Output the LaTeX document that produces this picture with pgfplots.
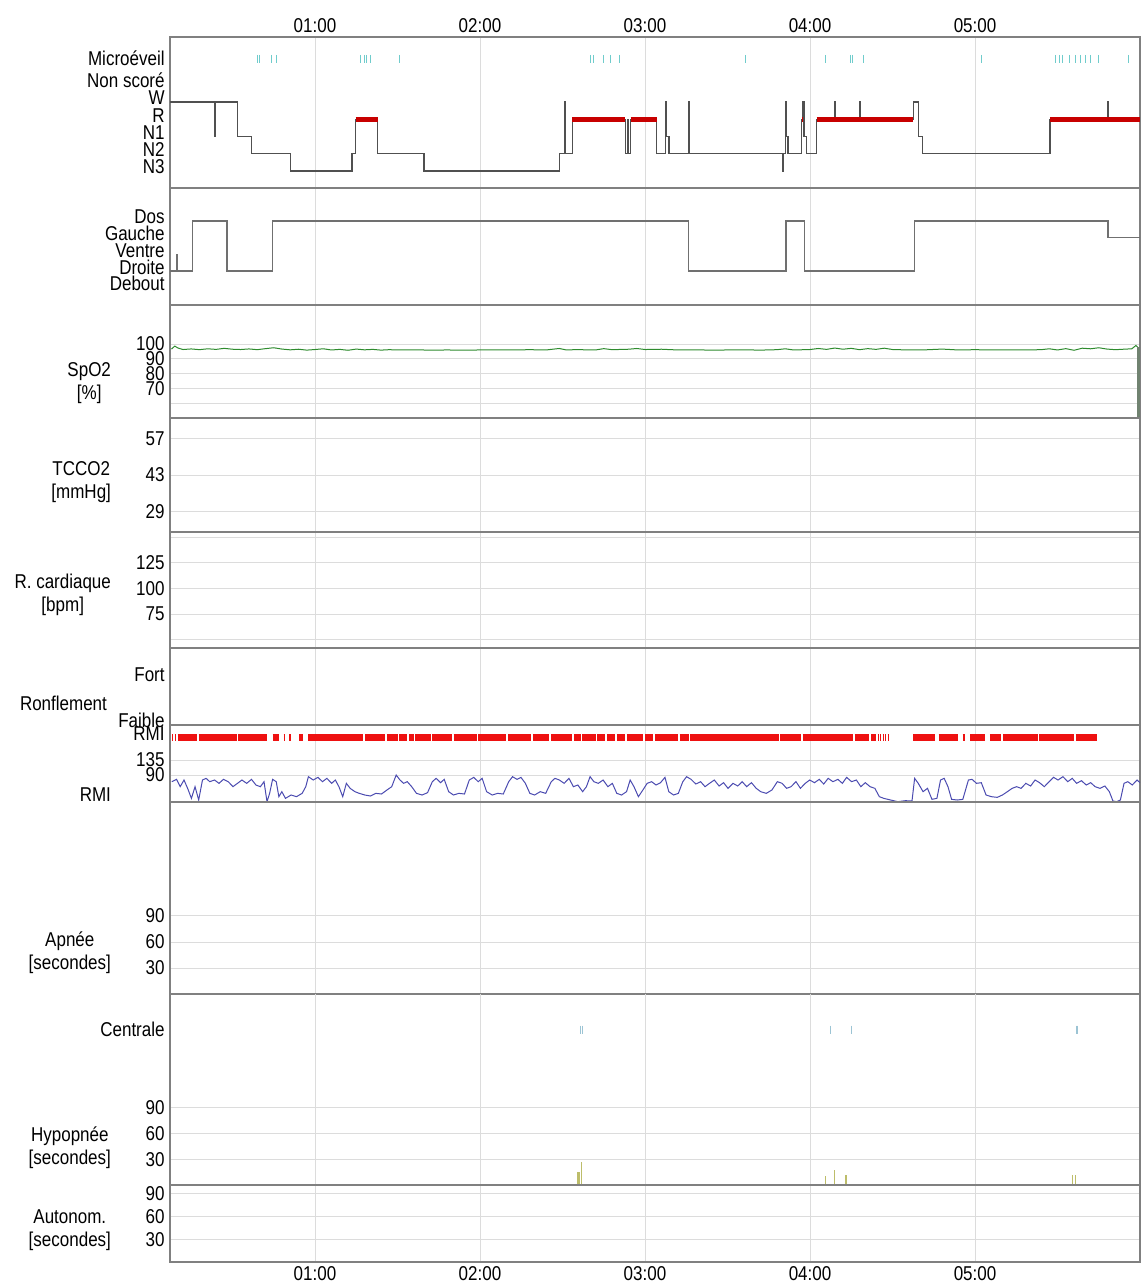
\documentclass[border=0pt]{standalone}
\usepackage{fontspec}
\setmainfont{Liberation Sans}[FakeStretch=0.85]
\usepackage{pgfplots}
\pgfplotsset{compat=1.18}
\newcommand\fs{\fontsize{10}{11.5}\selectfont}
\definecolor{gridc}{HTML}{DCDCDC}
\definecolor{framec}{HTML}{808080}
\definecolor{hypg}{HTML}{505050}
\definecolor{remc}{HTML}{C80000}
\definecolor{posc}{HTML}{707070}
\definecolor{spoc}{HTML}{2E8B2E}
\definecolor{rmir}{HTML}{EE1111}
\definecolor{rmib}{HTML}{4B4BB0}
\definecolor{microc}{HTML}{70CCCC}
\definecolor{centc}{HTML}{9CC4D4}
\definecolor{hypoc}{HTML}{BDBD6A}
\pgfplotsset{
 panel/.style={scale only axis, width=485pt, xmin=0.1212, xmax=6.0, anchor=north west,
   xtick={1,2,3,4,5}, xticklabels={}, xmajorgrids, ymajorgrids,
   grid style={draw=gridc, line width=0.5pt},
   major tick length=0pt,
   axis line style={draw=framec, line width=0.75pt},
   tick label style={font=\fs},
   /pgf/number format/assume math mode=true,
   yticklabel style={inner sep=1pt, xshift=-1.5pt},
   xticklabel style={inner sep=2pt},
 }
}
\begin{document}
\begin{tikzpicture}
\useasboundingbox (0,0) rectangle (572.5pt,-642.5pt);

% 1 Hypnogram
\begin{axis}[panel, at={(85pt,-18.5pt)}, height=75.5pt, ymin=-0.99, ymax=7.77,
  ymajorgrids=false, ytick={0,1,2,3,4,5.04,6.32},
  yticklabels={N3,N2,N1,R,W,Non scoré,Microéveil}, yticklabel style={yshift=2pt},
  xticklabels={01:00,02:00,03:00,04:00,05:00}, xticklabel pos=upper]
\addplot[const plot, draw=hypg, line width=0.6pt] coordinates {
(0.123,4) (0.390,2) (0.395,4) (0.530,2) (0.615,1) (0.850,0) (1.224,1) (1.246,3)
(1.380,1) (1.660,0) (2.480,1) (2.515,4) (2.520,1) (2.560,3) (2.880,1) (2.893,3)
(2.898,1) (2.913,3) (3.070,1) (3.126,4) (3.131,2) (3.145,1) (3.262,4) (3.267,1)
(3.832,0) (3.837,1) (3.852,4) (3.857,2) (3.866,1) (3.950,3) (3.958,4) (3.963,2)
(3.980,1) (4.040,3) (4.150,4) (4.155,3) (4.298,4) (4.303,3) (4.627,4) (4.656,2)
(4.680,1) (5.454,3) (5.805,4) (5.810,3) (6.000,3)};
\addplot[draw=remc, line width=2.5pt, unbounded coords=jump] coordinates {
(1.246,3) (1.380,3) (1.381,nan) (2.560,3) (2.880,3) (2.881,nan) (2.913,3) (3.070,3)
(3.071,nan) (3.950,3) (3.958,3) (3.959,nan) (4.040,3) (4.627,3) (4.628,nan) (5.454,3) (6.000,3)};
\addplot[draw=hypg, line width=0.6pt, unbounded coords=jump] coordinates {
(4.150,3.2) (4.150,4) (4.151,nan) (4.298,3.2) (4.298,4) (4.299,nan) (5.805,3.2) (5.805,4)};
\addplot[only marks, mark=|, mark size=2pt, mark options={draw=microc, line width=0.5pt}] coordinates {
(0.649,6.5) (0.665,6.5) (0.738,6.5) (0.765,6.5) (1.275,6.5) (1.298,6.5) (1.313,6.5)
(1.336,6.5) (1.510,6.5) (2.667,6.5) (2.685,6.5) (2.746,6.5) (2.791,6.5) (2.847,6.5)
(3.611,6.5) (4.094,6.5) (4.247,6.5) (4.258,6.5) (4.326,6.5) (5.038,6.5) (5.490,6.5)
(5.510,6.5) (5.530,6.5) (5.570,6.5) (5.610,6.5) (5.640,6.5) (5.670,6.5) (5.700,6.5)
(5.750,6.5) (5.930,6.5)};
\end{axis}

% 2 Position
\begin{axis}[panel, at={(85pt,-94pt)}, height=58.5pt, ymin=-1.04, ymax=5.98,
  ymajorgrids=false, ytick={0,1,2,3,4},
  yticklabels={Debout,Droite,Ventre,Gauche,Dos}, yticklabel style={yshift=2pt}]
\addplot[const plot, draw=posc, line width=0.7pt] coordinates {
(0.123,1) (0.160,2) (0.165,1) (0.257,4) (0.467,1) (0.743,4) (3.265,1) (3.854,4)
(3.966,1) (4.634,4) (5.807,3) (6.000,3)};
\end{axis}

% 3 SpO2
\begin{axis}[panel, at={(85pt,-152.5pt)}, height=56.5pt, ymin=50, ymax=126.4,
  ytick={60,70,80,90,100}, yticklabels={,70,80,90,100}]
\addplot[draw=spoc, line width=0.5pt] coordinates {
(0.13,96.6) (0.15,98.6) (0.17,97.3) (0.20,96.3) (0.25,96.7) (0.30,96.2) (0.35,96.8)
(0.40,96.4) (0.45,97.1) (0.50,96.5) (0.55,96.3) (0.60,96.7) (0.65,96.2) (0.70,96.9)
(0.75,97.5) (0.80,96.6) (0.85,96.1) (0.90,96.5) (0.95,95.9) (1.00,96.3) (1.05,96.8)
(1.10,96.0) (1.15,96.4) (1.20,95.8) (1.25,96.6) (1.30,96.1) (1.35,96.4) (1.40,95.9)
(1.45,96.2) (1.50,96.0) (1.60,96.1) (1.70,95.9) (1.80,96.0) (1.90,95.9) (2.00,96.0)
(2.10,96.1) (2.20,96.0) (2.30,96.2) (2.40,96.0) (2.48,97.0) (2.52,96.1) (2.60,96.2)
(2.70,96.0) (2.75,96.9) (2.80,96.2) (2.90,96.5) (2.95,97.0) (3.00,96.3) (3.10,96.5)
(3.20,96.0) (3.30,96.1) (3.40,95.9) (3.50,96.0) (3.60,96.1) (3.70,95.9) (3.80,96.2)
(3.85,96.8) (3.90,96.0) (4.00,96.3) (4.05,97.0) (4.10,96.4) (4.15,97.3) (4.20,96.5)
(4.25,97.1) (4.30,96.2) (4.35,96.9) (4.40,96.4) (4.45,97.2) (4.50,96.3) (4.60,96.0)
(4.70,96.1) (4.80,96.6) (4.90,96.0) (5.00,96.2) (5.10,96.0) (5.20,96.1) (5.30,96.0)
(5.40,96.2) (5.45,96.8) (5.50,96.0) (5.55,96.9) (5.60,95.8) (5.65,97.2) (5.70,96.8)
(5.75,97.5) (5.80,96.6) (5.85,96.2) (5.90,96.5) (5.95,96.8) (5.975,99.0) (5.985,98.0)};
\addplot[draw=framec!80!spoc, line width=1.2pt] coordinates {(5.99,98.0) (5.99,50)};
\end{axis}

% 4 TCCO2
\begin{axis}[panel, at={(85pt,-209pt)}, height=57pt, ymin=21, ymax=65, ytick={29,43,57}]
\addplot[draw=none] coordinates {(1,40)};
\end{axis}

% 5 HR
\begin{axis}[panel, at={(85pt,-266pt)}, height=58pt, ymin=42, ymax=155,
  ytick={50,75,100,125,150}, yticklabels={,75,100,125,}]
\addplot[draw=none] coordinates {(1,80)};
\end{axis}

% 6 Ronflement
\begin{axis}[panel, at={(85pt,-324pt)}, height=38.5pt, ymin=0, ymax=77,
  ymajorgrids=false, ytick={5,50}, yticklabels={Faible,Fort}]
\addplot[draw=none] coordinates {(1,20)};
\end{axis}

% 7 RMI
\begin{axis}[panel, at={(85pt,-362.5pt)}, height=38.5pt, ymin=9, ymax=240,
  ytick={90,135}, extra y ticks={214}, extra y tick labels={RMI},
  extra y tick style={grid=none}]
\addplot[draw=rmir, line width=3.5pt, unbounded coords=jump] coordinates {
(0.132,204) (0.140,204) (0.141,nan) (0.150,204) (0.158,204) (0.159,nan)
(0.168,204) (0.284,204) (0.285,nan) (0.295,204) (0.525,204) (0.526,nan)
(0.532,204) (0.709,204) (0.710,nan) (0.743,204) (0.781,204) (0.782,nan)
(0.810,204) (0.820,204) (0.821,nan) (0.843,204) (0.852,204) (0.853,nan)
(0.906,204) (0.928,204) (0.929,nan) (0.960,204) (1.290,204) (1.291,nan)
(1.305,204) (1.425,204) (1.426,nan) (1.435,204) (1.500,204) (1.501,nan)
(1.510,204) (1.560,204) (1.561,nan) (1.570,204) (1.600,204) (1.601,nan)
(1.608,204) (1.700,204) (1.701,nan) (1.710,204) (1.830,204) (1.831,nan)
(1.840,204) (1.980,204) (1.981,nan) (1.990,204) (2.160,204) (2.161,nan)
(2.170,204) (2.310,204) (2.311,nan) (2.320,204) (2.420,204) (2.421,nan)
(2.430,204) (2.560,204) (2.561,nan) (2.570,204) (2.610,204) (2.611,nan)
(2.620,204) (2.700,204) (2.701,nan) (2.710,204) (2.760,204) (2.761,nan)
(2.770,204) (2.820,204) (2.821,nan) (2.830,204) (2.880,204) (2.881,nan)
(2.890,204) (2.990,204) (2.991,nan) (3.000,204) (3.050,204) (3.051,nan)
(3.060,204) (3.200,204) (3.201,nan) (3.210,204) (3.265,204) (3.266,nan)
(3.275,204) (3.810,204) (3.811,nan) (3.820,204) (3.945,204) (3.946,nan)
(3.955,204) (4.260,204) (4.261,nan) (4.270,204) (4.360,204) (4.361,nan)
(4.370,204) (4.398,204) (4.399,nan) (4.410,204) (4.414,204) (4.415,nan)
(4.425,204) (4.429,204) (4.430,nan) (4.440,204) (4.444,204) (4.445,nan)
(4.455,204) (4.459,204) (4.460,nan) (4.470,204) (4.474,204) (4.475,nan)
(4.627,204) (4.757,204) (4.758,nan) (4.780,204) (4.897,204) (4.898,nan)
(4.925,204) (4.937,204) (4.938,nan) (4.971,204) (5.060,204) (5.061,nan)
(5.090,204) (5.160,204) (5.161,nan) (5.170,204) (5.380,204) (5.381,nan)
(5.390,204) (5.600,204) (5.601,nan) (5.610,204) (5.739,204)};
\addplot[draw=rmib, line width=0.5pt] coordinates {
(0.132,70) (0.161,77) (0.183,55) (0.206,75) (0.228,50) (0.251,20) (0.273,55) (0.295,15)
(0.318,75) (0.340,80) (0.362,70) (0.391,75) (0.418,65) (0.445,77) (0.474,70) (0.503,55)
(0.530,65) (0.557,75) (0.586,65) (0.615,77) (0.642,60) (0.669,55) (0.691,70) (0.709,10)
(0.725,35) (0.743,77) (0.765,70) (0.781,25) (0.799,40) (0.821,20) (0.855,30) (0.888,25)
(0.922,35) (0.944,55) (0.960,85) (0.989,75) (1.018,83) (1.045,70) (1.072,80) (1.101,65)
(1.123,75) (1.145,55) (1.168,25) (1.190,65) (1.213,50) (1.242,40) (1.268,35) (1.302,30)
(1.336,27) (1.369,35) (1.403,33) (1.436,45) (1.465,55) (1.492,90) (1.515,75) (1.537,65)
(1.559,70) (1.586,55) (1.615,35) (1.649,30) (1.682,37) (1.711,70) (1.734,80) (1.761,67)
(1.783,77) (1.810,40) (1.839,30) (1.872,35) (1.906,33) (1.935,75) (1.962,83) (1.989,70)
(2.013,80) (2.040,40) (2.074,30) (2.107,35) (2.141,33) (2.174,70) (2.197,85) (2.224,77)
(2.248,83) (2.275,65) (2.302,35) (2.331,30) (2.365,40) (2.398,35) (2.432,70) (2.454,80)
(2.481,75) (2.510,65) (2.539,80) (2.566,55) (2.593,60) (2.622,40) (2.645,55) (2.667,85)
(2.690,70) (2.717,65) (2.746,75) (2.775,55) (2.802,65) (2.829,35) (2.858,30) (2.888,40)
(2.910,75) (2.933,55) (2.960,25) (2.987,45) (3.013,65) (3.040,70) (3.067,60) (3.094,67)
(3.121,83) (3.144,40) (3.173,30) (3.202,35) (3.229,70) (3.252,85) (3.279,77) (3.308,63)
(3.337,70) (3.364,55) (3.391,65) (3.420,75) (3.449,57) (3.476,67) (3.503,50) (3.533,65)
(3.562,57) (3.589,70) (3.616,55) (3.645,67) (3.674,50) (3.701,40) (3.735,35) (3.769,45)
(3.802,70) (3.831,65) (3.858,50) (3.885,55) (3.915,70) (3.942,50) (3.971,65) (3.998,75)
(4.027,67) (4.056,77) (4.083,63) (4.110,80) (4.139,70) (4.169,77) (4.196,65) (4.222,83)
(4.252,70) (4.281,75) (4.308,55) (4.335,67) (4.364,55) (4.393,50) (4.420,25) (4.447,20)
(4.488,15) (4.533,10) (4.578,13) (4.618,12) (4.634,80) (4.656,65) (4.685,40) (4.712,50)
(4.739,17) (4.769,20) (4.791,75) (4.813,80) (4.836,55) (4.858,17) (4.892,15) (4.926,17)
(4.960,75) (4.982,77) (5.009,65) (5.038,67) (5.067,30) (5.099,25) (5.135,23) (5.166,30)
(5.196,40) (5.225,50) (5.252,55) (5.279,50) (5.308,65) (5.337,57) (5.364,75) (5.391,67)
(5.420,55) (5.449,70) (5.476,83) (5.503,75) (5.533,85) (5.562,70) (5.589,80) (5.616,65)
(5.645,73) (5.674,60) (5.701,67) (5.728,55) (5.757,50) (5.787,57) (5.814,40) (5.836,12)
(5.858,10) (5.881,15) (5.903,65) (5.926,70) (5.953,60) (5.982,75) (6.000,67)};
\end{axis}

% 8 Apnee
\begin{axis}[panel, at={(85pt,-401pt)}, height=96pt, ymin=0, ymax=221.5, ytick={30,60,90}]
\addplot[draw=none] coordinates {(1,20)};
\end{axis}

% 9 Hypopnee
\begin{axis}[panel, at={(85pt,-496.75pt)}, height=95.75pt, ymin=0, ymax=223,
  ytick={30,60,90}, extra y ticks={181}, extra y tick labels={Centrale},
  extra y tick style={grid=none}]
\addplot[ycomb, draw=hypoc, line width=0.6pt] coordinates {
(2.589,15) (2.600,15) (2.617,27) (4.094,10) (4.150,17.5) (4.218,11.6) (5.589,11.6) (5.607,11.6)};
\addplot[only marks, mark=|, mark size=2pt, mark options={draw=centc, line width=0.5pt}] coordinates {
(2.612,181) (2.622,181) (4.125,181) (4.250,181) (5.612,181) (5.622,181)};
\end{axis}

% 10 Autonom
\begin{axis}[panel, at={(85pt,-592.5pt)}, height=38.5pt, ymin=0, ymax=101.7,
  ytick={30,60,90}, xticklabels={01:00,02:00,03:00,04:00,05:00}, xticklabel pos=lower]
\addplot[draw=none] coordinates {(1,20)};
\end{axis}

% left labels
\node[anchor=east, align=center, font=\fs] at (59pt,-191.5pt) {SpO2\\{}[\%]};
\node[anchor=east, align=center, font=\fs] at (59pt,-241pt) {TCCO2\\{}[mmHg]};
\node[anchor=east, align=center, font=\fs] at (59pt,-297.5pt) {R. cardiaque\\{}[bpm]};
\node[anchor=east, align=center, font=\fs] at (57pt,-351.5pt) {Ronflement};
\node[anchor=east, align=center, font=\fs] at (59pt,-397.5pt) {RMI};
\node[anchor=east, align=center, font=\fs] at (59pt,-476.5pt) {Apnée\\{}[secondes]};
\node[anchor=east, align=center, font=\fs] at (59pt,-574pt) {Hypopnée\\{}[secondes]};
\node[anchor=east, align=center, font=\fs] at (59pt,-615pt) {Autonom.\\{}[secondes]};
\end{tikzpicture}
\end{document}
